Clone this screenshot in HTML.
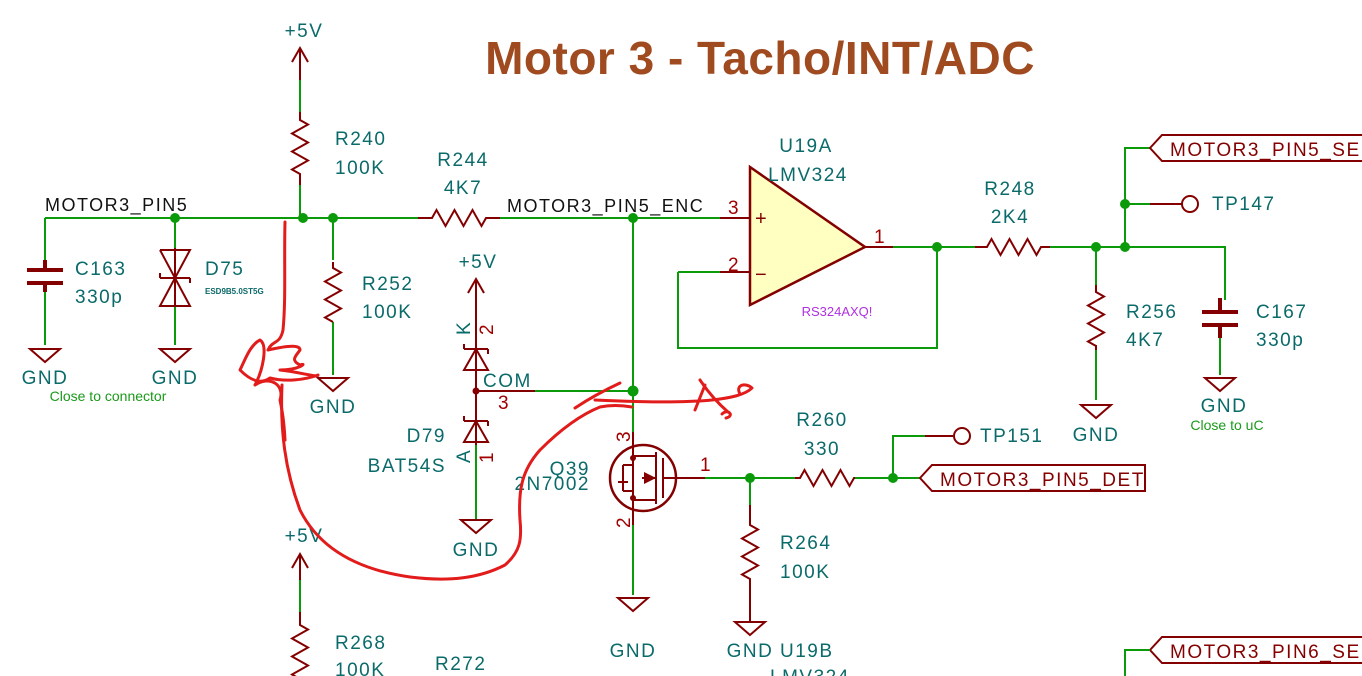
<!DOCTYPE html>
<html><head><meta charset="utf-8"><style>
html,body{margin:0;padding:0;background:#fff;}
svg{display:block}
text{font-family:"Liberation Sans",sans-serif;letter-spacing:1.5px}
.t{fill:#0b6a6a;font-size:19px;}
.r{fill:#a00000;font-size:19px;}
.w{stroke:#0a9a0a;stroke-width:2;fill:none}
.c{stroke:#840000;stroke-width:2;fill:none}
.m{stroke:#e21b1b;stroke-width:3;fill:none;stroke-linecap:round;stroke-linejoin:round}
</style></head><body>
<svg width="1362" height="676" viewBox="0 0 1362 676" xmlns="http://www.w3.org/2000/svg">
<text x="760" y="74" text-anchor="middle" style="font-size:46px;font-weight:bold;fill:#a04a20;letter-spacing:0.5px">Motor 3 - Tacho/INT/ADC</text>

<!-- +5V top -->
<text class="t" x="304" y="37" text-anchor="middle">+5V</text>
<path class="c" d="M292 62 L300 48 L308 62 M300 48 V80"/>
<path class="w" d="M300 80 V112"/>
<path class="c" d="M300 112 V120 l8 4.5 l-16 9 l16 9 l-16 9 l16 9 l-16 9 l8 4.5 V185"/>
<path class="w" d="M300 185 V218"/>
<text class="t" x="335" y="145">R240</text><text class="t" x="335" y="174">100K</text>

<!-- main wire -->
<path class="w" d="M45 218 H430 M490 218 H750 M45 218 V260 M45 290 V345 M175 218 V248 M175 307 V345 M333 218 V260 M333 322 V375"/>
<text style="fill:#111;font-size:18px" x="45" y="211">MOTOR3_PIN5</text>
<circle cx="175" cy="218" r="5" fill="#0a9a0a"/><circle cx="303" cy="218" r="5" fill="#0a9a0a"/><circle cx="333" cy="218" r="5" fill="#0a9a0a"/><circle cx="633" cy="218" r="5" fill="#0a9a0a"/>

<!-- C163 -->
<path class="c" d="M45 260 V270 M27 270 H63 M27 283 H63 M45 283 V292" style="stroke-width:4"/>
<text class="t" x="75" y="275">C163</text><text class="t" x="75" y="303">330p</text>
<path class="c" d="M30 349 H60 L45 362 Z"/><text class="t" x="45" y="384" text-anchor="middle">GND</text>
<text x="108" y="401" text-anchor="middle" style="fill:#1a9a1a;font-size:14px;letter-spacing:0">Close to connector</text>

<!-- D75 -->
<path class="c" d="M175 248 V307 M160 250 H190 L175 278 L160 250 M160 306 H190 L175 278 Z M160 278 H190 M160 278 v-5 M190 278 v5"/>
<text class="t" x="205" y="275">D75</text><text x="205" y="294" style="fill:#0b6a6a;font-size:8px;font-weight:bold;letter-spacing:0">ESD9B5.0ST5G</text>
<path class="c" d="M160 349 H190 L175 362 Z"/><text class="t" x="175" y="384" text-anchor="middle">GND</text>

<!-- R252 -->
<path class="c" d="M333 262 V268 l8 4.5 l-16 9 l16 9 l-16 9 l16 9 l-16 9 l8 4.5 V322"/>
<text class="t" x="362" y="290">R252</text><text class="t" x="362" y="318">100K</text>
<path class="c" d="M318 378 H348 L333 391 Z"/><text class="t" x="333" y="413" text-anchor="middle">GND</text>

<!-- R244 -->
<path class="c" d="M418 218 H432 l4.5 -8 l9 16 l9 -16 l9 16 l9 -16 l9 16 l4.5 -8 H500"/>
<text class="t" x="463" y="166" text-anchor="middle">R244</text><text class="t" x="463" y="194" text-anchor="middle">4K7</text>
<text style="fill:#111;font-size:18px" x="507" y="212">MOTOR3_PIN5_ENC</text>

<!-- D79 -->
<text class="t" x="478" y="268" text-anchor="middle">+5V</text>
<path class="c" d="M468 293 L476 279 L484 293 M476 279 V445"/>
<path class="c" d="M464 370 H488 L476 349 Z M464 349 H488 M464 349 v-5 M488 349 v5"/>
<path class="c" d="M464 442 H488 L476 421 Z M464 421 H488 M464 421 v-5 M488 421 v5"/>
<path class="w" d="M476 445 V520"/>
<circle cx="476" cy="391" r="3.5" fill="#840000"/>
<path class="c" d="M476 391 H535"/><path class="w" d="M535 391 H633"/>
<text class="t" x="483" y="387">COM</text>
<text class="r" x="498" y="409">3</text>
<text class="t" transform="translate(470 335) rotate(-90)">K</text>
<text class="r" transform="translate(493 335) rotate(-90)">2</text>
<text class="t" transform="translate(470 463) rotate(-90)">A</text>
<text class="r" transform="translate(493 463) rotate(-90)">1</text>
<text class="t" x="446" y="442" text-anchor="end">D79</text><text class="t" x="446" y="472" text-anchor="end">BAT54S</text>
<path class="c" d="M461 520 H491 L476 533 Z"/><text class="t" x="476" y="556" text-anchor="middle">GND</text>

<!-- Q39 -->
<path class="w" d="M633 218 V432 M633 525 V595"/>
<circle cx="633" cy="391" r="5.5" fill="#0a9a0a"/>
<path class="c" d="M633 432 V456 M633 500 V525"/>
<circle cx="643" cy="478" r="33" class="c" style="stroke-width:2.5"/>
<path class="c" d="M633 456 H656 M633 500 H656 M656 452 V504 M663 458 V498 M663 478 H677 M633 456 V500 M642 478 H656 M623 465 V491 M623 465 H633 M623 491 H633 M618 482 H628"/>
<path d="M656 478 L644 472 L644 484 Z" fill="#840000"/>
<circle cx="633" cy="458" r="3" fill="#840000"/><circle cx="633" cy="498" r="3" fill="#840000"/>
<text class="r" transform="translate(630 442) rotate(-90)">3</text>
<text class="r" transform="translate(630 528) rotate(-90)">2</text>
<text class="t" x="590" y="475" text-anchor="end">Q39</text><text class="t" x="590" y="490" text-anchor="end">2N7002</text>
<path class="c" d="M618 598 H648 L633 611 Z"/><text class="t" x="633" y="657" text-anchor="middle">GND</text>
<path class="c" d="M677 478 H705"/><text class="r" x="700" y="471">1</text>
<path class="w" d="M705 478 H795 M855 478 H920 M750 478 V505 M893 478 V436 H925"/>
<path class="c" d="M795 478 H800 l4.5 -8 l9 16 l9 -16 l9 16 l9 -16 l9 16 l4.5 -8 H855"/>
<text class="t" x="822" y="426" text-anchor="middle">R260</text><text class="t" x="822" y="455" text-anchor="middle">330</text>
<circle cx="750" cy="478" r="5" fill="#0a9a0a"/><circle cx="893" cy="478" r="5" fill="#0a9a0a"/>
<path class="c" d="M925 436 H953"/><circle cx="962" cy="436" r="8" class="c"/>
<text class="t" x="980" y="442">TP151</text>
<path class="c" d="M920 478 L932 465 H1145 V491 H932 Z"/>
<text class="r" x="940" y="486" style="fill:#840000">MOTOR3_PIN5_DET</text>
<path class="c" d="M750 505 V525 l8 4.5 l-16 9 l16 9 l-16 9 l16 9 l-16 9 l8 4.5 V622"/>
<text class="t" x="780" y="549">R264</text><text class="t" x="780" y="578">100K</text>
<path class="c" d="M735 622 H765 L750 635 Z"/><text class="t" x="750" y="657" text-anchor="middle">GND</text>
<text class="t" x="780" y="657">U19B</text><text class="t" x="770" y="683">LMV324</text>

<!-- op amp -->
<path d="M750 167 L865 247 L750 305 Z" fill="#ffffc2" stroke="#840000" stroke-width="2.5"/>
<text x="755" y="225" style="fill:#840000;font-size:20px">+</text>
<text x="755" y="281" style="fill:#840000;font-size:20px">−</text>
<path class="c" d="M720 218 H750 M720 272 H750 M865 247 H893"/>
<text class="r" x="728" y="214">3</text><text class="r" x="728" y="271">2</text><text class="r" x="874" y="243">1</text>
<path class="w" d="M678 272 H720 M678 272 V348 H937 V247 M893 247 H975 M1050 247 H1225 V300 M1096 247 V290 M1096 345 V400 M1125 247 V148 H1150 M1125 204 H1150 M1220 330 V375"/>
<circle cx="937" cy="247" r="5" fill="#0a9a0a"/><circle cx="1096" cy="247" r="5" fill="#0a9a0a"/><circle cx="1125" cy="247" r="5" fill="#0a9a0a"/><circle cx="1125" cy="204" r="5" fill="#0a9a0a"/>
<text class="t" x="806" y="152" text-anchor="middle">U19A</text><text class="t" x="808" y="181" text-anchor="middle">LMV324</text>
<text x="837" y="316" text-anchor="middle" style="fill:#b030e0;font-size:13px;letter-spacing:0">RS324AXQ!</text>

<path class="c" d="M975 247 H987 l4.5 -8 l9 16 l9 -16 l9 16 l9 -16 l9 16 l4.5 -8 H1050"/>
<text class="t" x="1010" y="195" text-anchor="middle">R248</text><text class="t" x="1010" y="223" text-anchor="middle">2K4</text>
<path class="c" d="M1096 285 V292 l8 4.5 l-16 9 l16 9 l-16 9 l16 9 l-16 9 l8 4.5 V350"/>
<text class="t" x="1126" y="318">R256</text><text class="t" x="1126" y="346">4K7</text>
<path class="c" d="M1081 405 H1111 L1096 418 Z"/><text class="t" x="1096" y="441" text-anchor="middle">GND</text>
<path class="c" d="M1220 298 V312 M1202 312 H1238 M1202 325 H1238 M1220 325 V338" style="stroke-width:4"/>
<text class="t" x="1256" y="318">C167</text><text class="t" x="1256" y="346">330p</text>
<path class="c" d="M1205 378 H1235 L1220 391 Z"/><text class="t" x="1224" y="412" text-anchor="middle">GND</text>
<text x="1227" y="430" text-anchor="middle" style="fill:#1a9a1a;font-size:14px;letter-spacing:0">Close to uC</text>
<path class="c" d="M1150 204 H1182"/><circle cx="1190" cy="204" r="8" class="c"/>
<text class="t" x="1212" y="210">TP147</text>
<path class="c" d="M1150 148 L1162 135 H1370 V161 H1162 Z"/>
<text x="1170" y="156" style="fill:#840000;font-size:19px">MOTOR3_PIN5_SEN</text>
<path class="c" d="M1150 650 L1162 637 H1370 V663 H1162 Z"/>
<text x="1170" y="658" style="fill:#840000;font-size:19px">MOTOR3_PIN6_SEN</text>
<path class="w" d="M1125 676 V650 H1150"/>

<!-- bottom left -->
<text class="t" x="304" y="542" text-anchor="middle">+5V</text>
<path class="c" d="M292 568 L300 554 L308 568 M300 554 V580"/>
<path class="w" d="M300 580 V612"/>
<path class="c" d="M300 612 V625 l8 4.5 l-16 9 l16 9 l-16 9 l16 9 l-16 9 l8 4.5"/>
<text class="t" x="335" y="649">R268</text><text class="t" x="335" y="676">100K</text>
<text class="t" x="435" y="670">R272</text>

<!-- red marker scribbles -->
<path class="m" d="M285 222 C284 260 286 300 283 330 C280 345 272 340 268 350 C290 345 300 345 300 350 C296 356 290 360 300 365 C308 362 300 370 280 370 C300 372 318 378 318 375 C305 380 285 382 270 378 C260 385 250 380 240 370 C245 360 250 345 260 340 C268 345 263 370 255 385 C270 375 285 385 280 400 C282 410 284 420 285 440"/>
<path class="m" d="M282 385 C280 430 285 470 300 510 C320 550 360 570 410 577 C450 582 480 578 505 565 C520 552 522 540 520 520 C518 490 522 470 540 450 C560 430 580 415 600 407 C610 405 620 405 632 407"/>
<path class="m" d="M575 408 C590 398 605 390 620 383 M595 400 C640 402 680 403 712 400 M705 385 L695 410 M700 380 C710 395 720 405 728 412 M712 400 C730 398 745 395 752 388 C745 382 735 385 740 394 M722 414 C728 408 735 416 726 418"/>
</svg>
</body></html>
